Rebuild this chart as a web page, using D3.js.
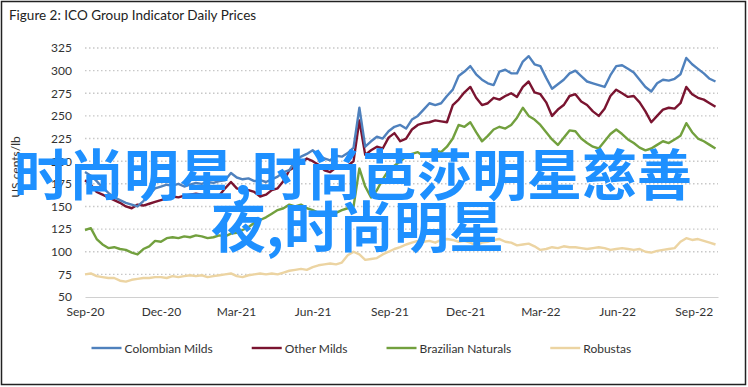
<!DOCTYPE html>
<html>
<head>
<meta charset="utf-8">
<script src="https://cdn.jsdelivr.net/npm/d3@7"></script>
<style>
  body { margin: 0; background: #fff; }
  text { font-family: Lato, "Open Sans", sans-serif; fill: #333; }
</style>
</head>
<body>
<svg id="chart" width="748" height="387"></svg>
<script>
// weekly readings, starting 1 Sep 2020
var startDay = new Date(2020, 8, 1);

var colombian = [
  188,184,178,171,165,160,157,154,152,150,
  156,163,170,172,174,173,175,172,174,176,
  175,177,176,178,179,187,182,180,181,178,
  179,177,180,183,188,190,200,205,208,212,
  207,203,201,206,205,209,215,259,216,222,
  227,225,233,238,240,236,246,250,257,264,
  262,264,272,279,294,299,305,296,290,286,
  284,299,301,297,297,310,316,307,305,292,
  280,285,290,297,300,294,288,286,284,282,
  295,305,306,302,298,290,282,277,286,290,
  289,291,296,314,307,302,297,291,288
];
var otherMilds = [
  179,174,166,163,160,157,154,150,148,152,
  151,153,155,157,159,161,160,162,163,164,
  163,161,160,162,170,177,170,168,168,166,
  161,163,168,170,178,190,194,198,203,200,
  196,190,188,193,194,195,200,245,207,212,
  216,214,226,231,222,225,235,240,242,243,
  245,244,243,262,268,276,282,270,262,264,
  270,268,272,275,271,282,288,276,274,265,
  250,257,262,272,274,266,262,255,250,258,
  272,279,275,271,272,265,255,243,250,257,
  259,258,264,282,274,270,268,264,260
];
var brazilian = [
  124,126,114,108,104,105,103,102,99,97,
  103,106,112,111,115,116,115,117,116,118,
  117,115,116,118,117,120,121,124,127,132,
  135,138,142,146,148,152,150,152,148,146,
  143,142,144,143,146,148,150,192,172,160,
  168,180,190,195,200,205,208,210,205,208,
  212,210,216,225,240,238,243,232,222,228,
  235,238,236,240,248,259,250,246,240,232,
  224,218,226,234,233,225,220,216,214,222,
  230,235,230,224,220,215,212,214,218,222,
  220,224,228,242,232,225,222,218,214
];
var robustas = [
  75,76,73,72,71,71,68,67,69,70,
  71,71,72,72,71,73,72,73,74,73,
  74,72,73,74,75,76,73,72,74,75,
  76,75,76,75,77,79,80,81,80,83,
  85,86,87,86,88,96,100,97,91,92,
  93,97,100,103,105,108,110,112,111,112,
  110,113,114,113,111,112,110,107,110,111,
  113,114,111,110,107,108,109,106,102,103,
  105,104,106,105,105,104,103,104,105,104,
  102,103,104,103,102,103,100,99,101,102,
  103,104,111,115,113,114,112,110,108
];

var seriesNames = ["Colombian Milds", "Other Milds", "Brazilian Naturals", "Robustas"];
var seriesColors = ["#4f81bd", "#7a1430", "#72a03e", "#ecd4a2"];
var yTicks = [50, 75, 100, 125, 150, 175, 200, 225, 250, 275, 300, 325];
var tickLabels = ["Sep-20", "Dec-20", "Mar-21", "Jun-21", "Sep-21", "Dec-21", "Mar-22", "Jun-22", "Sep-22"];
var tickDates = [new Date(2020,8,1), new Date(2020,11,1), new Date(2021,2,1), new Date(2021,5,1),
                 new Date(2021,8,1), new Date(2021,11,1), new Date(2022,2,1), new Date(2022,5,1), new Date(2022,8,1)];

var svg = d3.select("#chart");

svg.append("rect")
  .attr("x", 1.5).attr("y", 1.5)
  .attr("width", 744).attr("height", 383)
  .attr("fill", "#fff").attr("stroke", "#222").attr("stroke-width", 1.5);

svg.append("text")
  .attr("x", 9).attr("y", 20)
  .style("font-size", "13.5px").style("fill", "#222")
  .text("Figure 2: ICO Group Indicator Daily Prices");

var x = d3.scaleTime()
  .domain([new Date(2020, 8, 1), new Date(2022, 8, 30)])
  .range([85, 718]);
var y = d3.scaleLinear()
  .domain([50, 325])
  .range([297, 48]);

// gridlines
svg.append("g")
  .selectAll("line")
  .data(yTicks.slice(1))
  .enter().append("line")
  .attr("x1", 85).attr("x2", 718)
  .attr("y1", function(d) { return y(d); })
  .attr("y2", function(d) { return y(d); })
  .attr("stroke", "#c8c8c8")
  .attr("stroke-width", 1.4)
  .attr("stroke-dasharray", "1.5,2.5");

// y axis
var yAxis = svg.append("g")
  .attr("transform", "translate(85,0)")
  .call(d3.axisLeft(y).tickValues(yTicks).tickSize(0).tickPadding(13));
yAxis.select(".domain").remove();
yAxis.selectAll("text").style("font-size", "12px").style("fill", "#333").style("font-family", "Lato");

// x axis
var xAxis = svg.append("g")
  .attr("transform", "translate(0,297)")
  .call(d3.axisBottom(x).tickValues(tickDates).tickSize(0).tickPadding(10)
    .tickFormat(function(d, i) { return tickLabels[i]; }));
xAxis.select(".domain").attr("stroke", "#d0d0d0").attr("stroke-width", 1.2);
xAxis.selectAll("text").style("font-size", "12px").style("fill", "#333").style("font-family", "Lato");

svg.append("text")
  .attr("transform", "translate(20,167) rotate(-90)")
  .attr("text-anchor", "middle")
  .style("font-size", "12px")
  .text("US cents/lb");

var allSeries = [colombian, otherMilds, brazilian, robustas];

var line = d3.line()
  .x(function(d, i) { return x(d3.timeDay.offset(startDay, i * 7)); })
  .y(function(d) { return y(d); });

// robustas first so the others sit above
[3, 2, 1, 0].forEach(function(s) {
  svg.append("path")
    .datum(allSeries[s])
    .attr("fill", "none")
    .attr("stroke", seriesColors[s])
    .attr("stroke-width", 2.4)
    .attr("stroke-linejoin", "round")
    .attr("d", line);
});

// legend
var lx = 91.5;
seriesNames.forEach(function(name, i) {
  svg.append("line")
    .attr("x1", lx).attr("x2", lx + 30)
    .attr("y1", 348).attr("y2", 348)
    .attr("stroke", seriesColors[i]).attr("stroke-width", 2.4);
  var t = svg.append("text")
    .attr("x", lx + 33).attr("y", 352.5)
    .style("font-size", "12px")
    .text(name);
  lx = lx + 33 + t.node().getComputedTextLength() + 39;
});

// overlaid caption
var capLines = ["时尚明星,时尚芭莎明星慈善", "夜,时尚明星"];
var capX = [14, 211];
var capY = [195, 247];
capLines.forEach(function(c, i) {
  svg.append("text")
    .attr("x", capX[i]).attr("y", capY[i])
    .style("font-family", "'Noto Sans CJK SC', sans-serif")
    .style("font-weight", "bold")
    .style("font-size", "55px")
    .style("fill", "#1e90ff")
    .text(c);
});
</script>
</body>
</html>
